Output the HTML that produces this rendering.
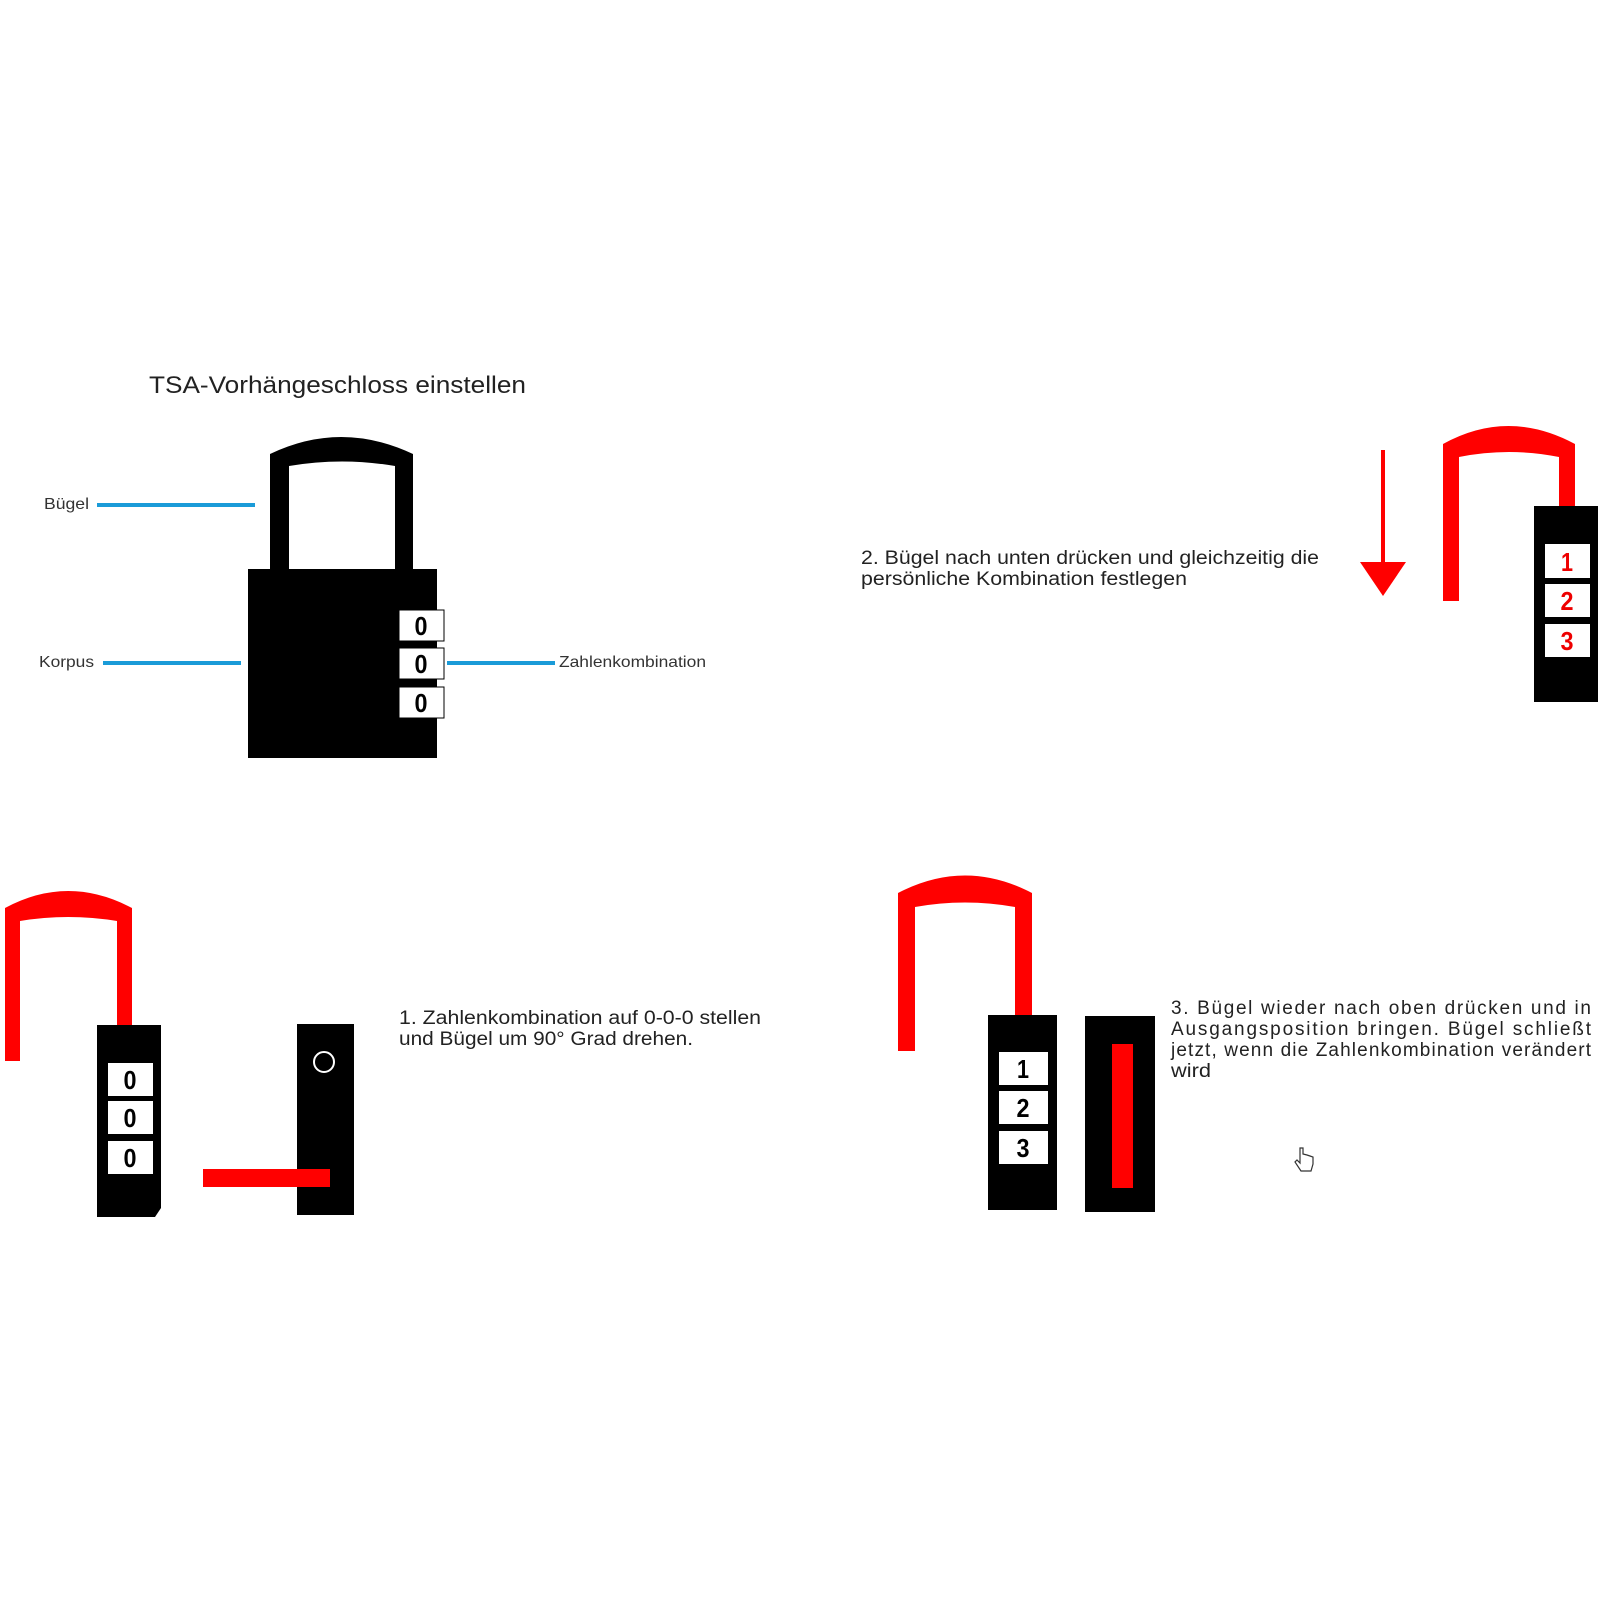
<!DOCTYPE html>
<html><head><meta charset="utf-8"><style>
html,body{margin:0;padding:0;background:#fff;}
svg{display:block;}
text{font-family:"Liberation Sans",sans-serif;}
</style></head><body>
<svg width="1600" height="1600" viewBox="0 0 1600 1600" xmlns="http://www.w3.org/2000/svg">
<rect width="1600" height="1600" fill="#fff"/>
<text x="149" y="393" font-size="24" fill="#222" textLength="377" lengthAdjust="spacingAndGlyphs">TSA-Vorhängeschloss einstellen</text>
<!-- main lock -->
<path d="M270 454 Q341 420 413 454 L413 569 L395 569 L395 466 Q342 457 289 466 L289 569 L270 569 Z" fill="#000"/>
<rect x="248" y="569" width="189" height="189" fill="#000"/>
<g font-size="26" font-weight="bold" text-anchor="middle" fill="#000">
<rect x="399" y="610" width="45" height="31" fill="#fff" stroke="#000" stroke-width="1"/><text x="421" y="635" textLength="13" lengthAdjust="spacingAndGlyphs">0</text>
<rect x="399" y="648" width="45" height="31" fill="#fff" stroke="#000" stroke-width="1"/><text x="421" y="673" textLength="13" lengthAdjust="spacingAndGlyphs">0</text>
<rect x="399" y="687" width="45" height="31" fill="#fff" stroke="#000" stroke-width="1"/><text x="421" y="712" textLength="13" lengthAdjust="spacingAndGlyphs">0</text>
</g>
<g stroke="#1a9bd8" stroke-width="4">
<line x1="97" y1="505" x2="255" y2="505"/>
<line x1="103" y1="663" x2="241" y2="663"/>
<line x1="447" y1="663" x2="555" y2="663"/>
</g>
<g font-size="16" fill="#333">
<text x="44" y="509" textLength="45" lengthAdjust="spacingAndGlyphs">Bügel</text>
<text x="39" y="667" textLength="55" lengthAdjust="spacingAndGlyphs">Korpus</text>
<text x="559" y="667" textLength="147" lengthAdjust="spacingAndGlyphs">Zahlenkombination</text>
</g>
<!-- step 2 -->
<text x="861" y="564" font-size="19" fill="#222" textLength="458" lengthAdjust="spacingAndGlyphs">2. Bügel nach unten drücken und gleichzeitig die</text>
<text x="861" y="585" font-size="19" fill="#222" textLength="326" lengthAdjust="spacingAndGlyphs">persönliche Kombination festlegen</text>
<rect x="1381" y="450" width="4" height="115" fill="#f00"/>
<polygon points="1360,562 1406,562 1383,596" fill="#f00"/>
<path d="M1443 444 Q1508 408 1575 444 L1575 507 L1559 507 L1559 457 Q1509 447 1459 457 L1459 601 L1443 601 Z" fill="#f00"/>
<rect x="1534" y="506" width="64" height="196" fill="#000"/>
<g font-size="26" font-weight="bold" text-anchor="middle" fill="#e00">
<rect x="1545" y="544" width="45" height="34" fill="#fff"/><text x="1567" y="571" textLength="12" lengthAdjust="spacingAndGlyphs">1</text>
<rect x="1545" y="584" width="45" height="33" fill="#fff"/><text x="1567" y="610" textLength="13" lengthAdjust="spacingAndGlyphs">2</text>
<rect x="1545" y="624" width="45" height="33" fill="#fff"/><text x="1567" y="650" textLength="13" lengthAdjust="spacingAndGlyphs">3</text>
</g>
<!-- step 1 -->
<path d="M5 908 Q68 874 132 908 L132 1026 L117 1026 L117 921 Q68 913 20 921 L20 1061 L5 1061 Z" fill="#f00"/>
<path d="M97 1025 L161 1025 L161 1208 L155 1217 L97 1217 Z" fill="#000"/>
<g font-size="26" font-weight="bold" text-anchor="middle" fill="#000">
<rect x="108" y="1063" width="45" height="33" fill="#fff"/><text x="130" y="1089" textLength="13" lengthAdjust="spacingAndGlyphs">0</text>
<rect x="108" y="1101" width="45" height="33" fill="#fff"/><text x="130" y="1127" textLength="13" lengthAdjust="spacingAndGlyphs">0</text>
<rect x="108" y="1141" width="45" height="33" fill="#fff"/><text x="130" y="1167" textLength="13" lengthAdjust="spacingAndGlyphs">0</text>
</g>
<rect x="297" y="1024" width="57" height="191" fill="#000"/>
<circle cx="324" cy="1062" r="10" fill="none" stroke="#fff" stroke-width="2"/>
<rect x="203" y="1169" width="127" height="18" fill="#f00"/>
<text x="399" y="1024" font-size="19" fill="#222" textLength="362" lengthAdjust="spacingAndGlyphs">1. Zahlenkombination auf 0-0-0 stellen</text>
<text x="399" y="1045" font-size="19" fill="#222" textLength="294" lengthAdjust="spacingAndGlyphs">und Bügel um 90° Grad drehen.</text>
<!-- step 3 -->
<path d="M898 893 Q965 858 1032 893 L1032 1016 L1015 1016 L1015 907 Q965 898 915 907 L915 1051 L898 1051 Z" fill="#f00"/>
<rect x="988" y="1015" width="69" height="195" fill="#000"/>
<g font-size="26" font-weight="bold" text-anchor="middle" fill="#000">
<rect x="999" y="1052" width="49" height="33" fill="#fff"/><text x="1023" y="1078" textLength="12" lengthAdjust="spacingAndGlyphs">1</text>
<rect x="999" y="1091" width="49" height="33" fill="#fff"/><text x="1023" y="1117" textLength="13" lengthAdjust="spacingAndGlyphs">2</text>
<rect x="999" y="1131" width="49" height="33" fill="#fff"/><text x="1023" y="1157" textLength="13" lengthAdjust="spacingAndGlyphs">3</text>
</g>
<rect x="1085" y="1016" width="70" height="196" fill="#000"/>
<rect x="1112" y="1044" width="21" height="144" fill="#f00"/>
<g font-size="19" fill="#222">
<text x="1171" y="1014" textLength="420" lengthAdjust="spacing">3. Bügel wieder nach oben drücken und in</text>
<text x="1171" y="1035" textLength="420" lengthAdjust="spacing">Ausgangsposition bringen. Bügel schließt</text>
<text x="1171" y="1056" textLength="420" lengthAdjust="spacing">jetzt, wenn die Zahlenkombination verändert</text>
<text x="1171" y="1077" textLength="40" lengthAdjust="spacingAndGlyphs">wird</text>
</g>
<path d="M1300 1148 L1300 1163 L1297 1160 L1295 1162 L1301 1171 L1311 1171 L1313 1164 L1313 1157 L1310 1156 L1307 1155 L1303 1154 L1303 1148 Z" fill="#fff" stroke="#333" stroke-width="1.2"/>
</svg>
</body></html>
